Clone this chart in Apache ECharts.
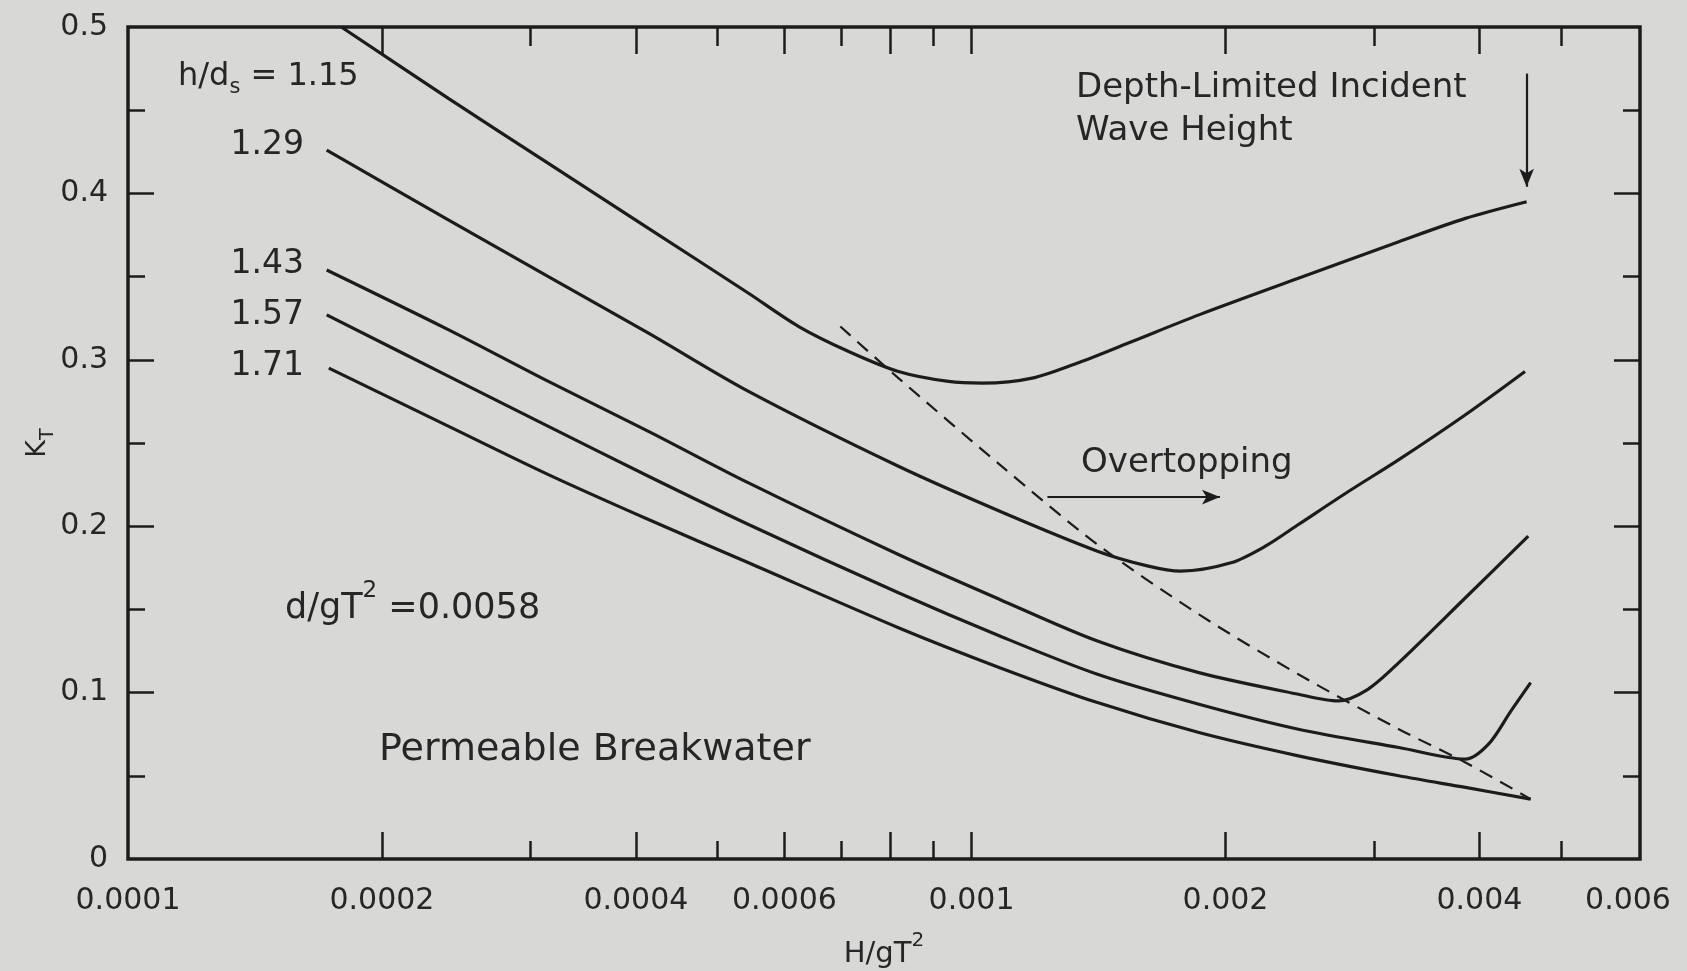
<!DOCTYPE html>
<html>
<head>
<meta charset="utf-8">
<script src="https://cdn.jsdelivr.net/npm/echarts@6/dist/echarts.min.js"></script>
<style>
  html, body { margin: 0; padding: 0; background: #d8d8d6; }
  #chart { width: 1687px; height: 971px; }
</style>
</head>
<body>
<div id="chart"></div>
<script>
// Wave transmission past a permeable breakwater, d/gT^2 = 0.0058.
// x: H/gT^2 (log scale), y: transmission coefficient K_T, one curve per h/ds.
const ratioLabels = ['1.15', '1.29', '1.43', '1.57', '1.71'];

const h115  = [0.000179, 0.000240, 0.000315, 0.000414, 0.000544, 0.000624, 0.000715, 0.000819, 0.000939, 0.00103, 0.00118, 0.00135, 0.00155, 0.00186, 0.00244, 0.00321, 0.00385, 0.00455];
const kt115 = [0.500, 0.457, 0.418, 0.379, 0.340, 0.320, 0.305, 0.293, 0.287, 0.286, 0.289, 0.299, 0.311, 0.327, 0.349, 0.371, 0.385, 0.395];

const h129  = [0.000172, 0.000240, 0.000315, 0.000414, 0.000544, 0.000819, 0.00108, 0.00141, 0.00162, 0.00177, 0.00203, 0.00223, 0.00244, 0.00280, 0.00321, 0.00385, 0.00453];
const kt129 = [0.426, 0.384, 0.350, 0.316, 0.281, 0.236, 0.209, 0.185, 0.176, 0.173, 0.178, 0.188, 0.201, 0.221, 0.240, 0.267, 0.293];

const h143  = [0.000172, 0.000240, 0.000315, 0.000414, 0.000544, 0.000819, 0.00108, 0.00141, 0.00186, 0.00244, 0.00272, 0.00295, 0.00321, 0.00385, 0.00457];
const kt143 = [0.354, 0.318, 0.287, 0.257, 0.226, 0.183, 0.156, 0.131, 0.112, 0.099, 0.095, 0.102, 0.118, 0.157, 0.194];

const h157  = [0.000172, 0.000240, 0.000315, 0.000414, 0.000544, 0.000819, 0.00108, 0.00141, 0.00186, 0.00244, 0.00321, 0.00385, 0.00410, 0.00436, 0.00460];
const kt157 = [0.327, 0.290, 0.260, 0.230, 0.201, 0.160, 0.134, 0.111, 0.093, 0.078, 0.067, 0.060, 0.069, 0.089, 0.106];

const h171  = [0.000173, 0.000240, 0.000315, 0.000414, 0.000544, 0.000819, 0.00108, 0.00141, 0.00186, 0.00244, 0.00321, 0.00385, 0.00460];
const kt171 = [0.295, 0.260, 0.231, 0.204, 0.178, 0.139, 0.115, 0.094, 0.076, 0.062, 0.050, 0.043, 0.036];

// Overtopping limit (dashed)
const hLimit  = [0.000699, 0.000819, 0.00108, 0.00141, 0.00186, 0.00244, 0.00321, 0.00385, 0.00460];
const ktLimit = [0.320, 0.289, 0.237, 0.189, 0.147, 0.111, 0.078, 0.058, 0.036];

// Annotation arrows
const depthArrowH  = [0.00455, 0.00455];
const depthArrowKt = [0.472, 0.404];
const overArrowH   = [0.00123, 0.00197];
const overArrowKt  = [0.2175, 0.2175];

// Axis ticks and labels
const xLabelValues = [0.0001, 0.0002, 0.0004, 0.0006, 0.001, 0.002, 0.004, 0.006];
const xLabelText   = ['0.0001', '0.0002', '0.0004', '0.0006', '0.001', '0.002', '0.004', '0.006'];
const xMajorTicks  = [0.0002, 0.0004, 0.0006, 0.0008, 0.001, 0.002, 0.004];
const xMinorTicks  = [0.0003, 0.0005, 0.0007, 0.0009, 0.003, 0.005];
const yMajorTicks  = [0, 0.1, 0.2, 0.3, 0.4, 0.5];
const yLabelText   = ['0', '0.1', '0.2', '0.3', '0.4', '0.5'];
const yMinorTicks  = [0.05, 0.15, 0.25, 0.35, 0.45];

const INK = '#1c1c1c';
const TXT = '#262626';
const FONT = '"DejaVu Sans", sans-serif';

const pairs = (xs, ys) => xs.map((x, i) => [x, ys[i]]);

function xAxisCfg(position, ticks, len, withLabels) {
  const cfg = {
    type: 'log', logBase: 10, min: 0.0001, max: 0.0062, position: position,
    axisLine: { show: false, onZero: false },
    splitLine: { show: false },
    minorTick: { show: false },
    axisTick: { show: true, inside: true, length: len, customValues: ticks,
                lineStyle: { color: INK, width: 2.5 } },
    axisLabel: { show: false }
  };
  if (withLabels) {
    cfg.axisLabel = {
      show: true, customValues: xLabelValues, margin: 27,
      color: TXT, fontFamily: FONT, fontSize: 30,
      formatter: function (v) {
        let best = 0;
        xLabelValues.forEach((t, i) => {
          if (Math.abs(Math.log10(t) - Math.log10(v)) < Math.abs(Math.log10(xLabelValues[best]) - Math.log10(v))) best = i;
        });
        return xLabelText[best];
      }
    };
    cfg.name = '{a|H/gT}{s|2}';
    cfg.nameLocation = 'middle';
    cfg.nameGap = 72;
    cfg.nameTextStyle = {
      rich: {
        a: { fontFamily: FONT, fontSize: 29, color: TXT, lineHeight: 38, verticalAlign: 'bottom' },
        s: { fontFamily: FONT, fontSize: 20, color: TXT, lineHeight: 38, verticalAlign: 'top' }
      }
    };
  }
  return cfg;
}

function yAxisCfg(position, ticks, len, withLabels) {
  const cfg = {
    type: 'value', min: 0, max: 0.5, position: position,
    axisLine: { show: false, onZero: false },
    splitLine: { show: false },
    axisTick: { show: true, inside: true, length: len, customValues: ticks,
                lineStyle: { color: INK, width: 2.5 } },
    axisLabel: { show: false }
  };
  if (withLabels) {
    cfg.axisLabel = {
      show: true, customValues: yMajorTicks, margin: 20,
      color: TXT, fontFamily: FONT, fontSize: 30,
      formatter: function (v) {
        const i = yMajorTicks.findIndex(t => Math.abs(t - v) < 1e-9);
        return i >= 0 ? yLabelText[i] : '';
      }
    };
    cfg.name = '{k|K}{t|T}';
    cfg.nameLocation = 'middle';
    cfg.nameGap = 70;
    cfg.nameMoveOverlap = false;
    cfg.nameRotate = 90;
    cfg.nameTextStyle = {
      rich: {
        k: { fontFamily: FONT, fontSize: 27, color: TXT, lineHeight: 34, verticalAlign: 'top' },
        t: { fontFamily: FONT, fontSize: 19, color: TXT, lineHeight: 34, verticalAlign: 'bottom' }
      }
    };
  }
  return cfg;
}

function curve(name, xs, ys) {
  return {
    name: name, type: 'line', data: pairs(xs, ys),
    xAxisIndex: 0, yAxisIndex: 0,
    showSymbol: false, symbol: 'none', smooth: 0.3,
    lineStyle: { color: INK, width: 3.2 },
    silent: true, animation: false, z: 3
  };
}

function arrow(xs, ys) {
  return [{ coord: [xs[0], ys[0]] }, { coord: [xs[1], ys[1]] }];
}

const chart = echarts.init(document.getElementById('chart'), null, { renderer: 'canvas' });

chart.setOption({
  backgroundColor: '#d8d8d6',
  animation: false,
  grid: {
    left: 128, right: 47, top: 27, bottom: 112,
    containLabel: false, outerBoundsMode: 'none',
    show: true, borderColor: INK, borderWidth: 3.5, backgroundColor: 'transparent'
  },
  xAxis: [
    xAxisCfg('bottom', xMajorTicks, 27, true),
    xAxisCfg('bottom', xMinorTicks, 18, false),
    xAxisCfg('top', xMajorTicks, 27, false),
    xAxisCfg('top', xMinorTicks, 19, false)
  ],
  yAxis: [
    yAxisCfg('left', yMajorTicks.slice(1, 5), 26, true),
    yAxisCfg('left', yMinorTicks, 17, false),
    yAxisCfg('right', yMajorTicks.slice(1, 5), 26, false),
    yAxisCfg('right', yMinorTicks, 17, false)
  ],
  series: [
    curve(ratioLabels[0], h115, kt115),
    curve(ratioLabels[1], h129, kt129),
    curve(ratioLabels[2], h143, kt143),
    curve(ratioLabels[3], h157, kt157),
    curve(ratioLabels[4], h171, kt171),
    {
      name: 'Overtopping limit', type: 'line', data: pairs(hLimit, ktLimit),
      xAxisIndex: 0, yAxisIndex: 0,
      showSymbol: false, symbol: 'none', smooth: 0.3,
      lineStyle: { color: INK, width: 2.2, type: [14, 9] },
      silent: true, animation: false, z: 2
    },
    {
      name: 'arrows', type: 'line', data: [],
      xAxisIndex: 0, yAxisIndex: 0, silent: true, animation: false,
      markLine: {
        silent: true, animation: false,
        symbol: ['none', 'arrow'], symbolSize: [11, 18],
        label: { show: false },
        lineStyle: { color: INK, width: 2.2, type: 'solid' },
        emphasis: { disabled: true },
        data: [arrow(depthArrowH, depthArrowKt), arrow(overArrowH, overArrowKt)]
      }
    }
  ],
  graphic: [
    {
      type: 'text', x: 178, y: 77, silent: true,
      style: {
        text: '{a|h/d}{s|s}{a| = ' + ratioLabels[0] + '}',
        align: 'left', verticalAlign: 'middle',
        rich: {
          a: { fontFamily: FONT, fontSize: 32, fill: TXT, lineHeight: 42, verticalAlign: 'middle' },
          s: { fontFamily: FONT, fontSize: 21, fill: TXT, lineHeight: 42, verticalAlign: 'bottom' }
        }
      }
    },
    { type: 'text', x: 304, y: 145, silent: true,
      style: { text: ratioLabels[1], font: '33px ' + FONT, fill: TXT, align: 'right', verticalAlign: 'middle' } },
    { type: 'text', x: 304, y: 264, silent: true,
      style: { text: ratioLabels[2], font: '33px ' + FONT, fill: TXT, align: 'right', verticalAlign: 'middle' } },
    { type: 'text', x: 304, y: 315, silent: true,
      style: { text: ratioLabels[3], font: '33px ' + FONT, fill: TXT, align: 'right', verticalAlign: 'middle' } },
    { type: 'text', x: 304, y: 366, silent: true,
      style: { text: ratioLabels[4], font: '33px ' + FONT, fill: TXT, align: 'right', verticalAlign: 'middle' } },
    { type: 'text', x: 1076, y: 88, silent: true,
      style: { text: 'Depth-Limited Incident', font: '34px ' + FONT, fill: TXT, align: 'left', verticalAlign: 'middle' } },
    { type: 'text', x: 1076, y: 131, silent: true,
      style: { text: 'Wave Height', font: '34px ' + FONT, fill: TXT, align: 'left', verticalAlign: 'middle' } },
    { type: 'text', x: 1081, y: 463, silent: true,
      style: { text: 'Overtopping', font: '34px ' + FONT, fill: TXT, align: 'left', verticalAlign: 'middle' } },
    {
      type: 'text', x: 285, y: 603, silent: true,
      style: {
        text: '{a|d/gT}{s|2}{a| =0.0058}',
        align: 'left', verticalAlign: 'middle',
        rich: {
          a: { fontFamily: FONT, fontSize: 35, fill: TXT, lineHeight: 46, verticalAlign: 'bottom' },
          s: { fontFamily: FONT, fontSize: 23, fill: TXT, lineHeight: 46, verticalAlign: 'top' }
        }
      }
    },
    { type: 'text', x: 379, y: 750, silent: true,
      style: { text: 'Permeable Breakwater', font: '38px ' + FONT, fill: TXT, align: 'left', verticalAlign: 'middle' } }
  ]
});
</script>
</body>
</html>
